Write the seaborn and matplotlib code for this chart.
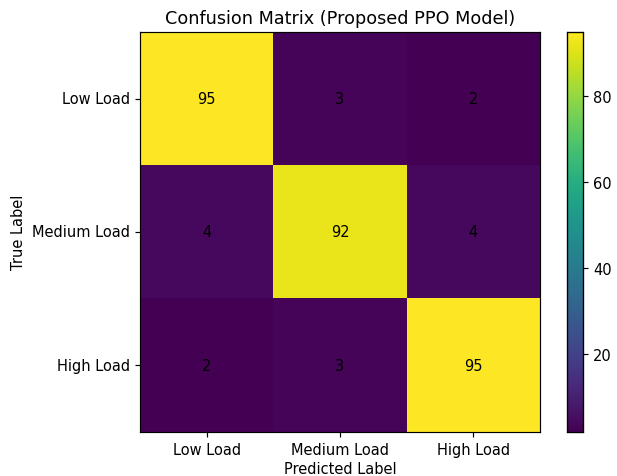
import numpy as np
import matplotlib
matplotlib.use("Agg")
import matplotlib.pyplot as plt
import seaborn as sns

classes = ["Low Load", "Medium Load", "High Load"]
low_row = [95, 3, 2]
medium_row = [4, 92, 4]
high_row = [2, 3, 95]

cm = np.array([low_row, medium_row, high_row])

sns.set_style("white")
plt.rcParams['font.family'] = ['DejaVu Sans']
plt.rcParams['text.color'] = 'black'
plt.rcParams['axes.labelcolor'] = 'black'
plt.rcParams['xtick.color'] = 'black'
plt.rcParams['ytick.color'] = 'black'

fs = 10.5

fig = plt.figure(figsize=(6.17, 4.77), dpi=100)
ax = fig.add_axes([0.227, 0.093, 0.648, 0.838])
cax = fig.add_axes([0.919, 0.093, 0.026, 0.838])

sns.heatmap(cm, annot=True, fmt="d", cmap="viridis", ax=ax, cbar_ax=cax,
            xticklabels=classes, yticklabels=classes,
            annot_kws={"color": "black", "fontsize": fs})

for s in ax.spines.values():
    s.set_visible(True)
    s.set_color("black")
    s.set_linewidth(0.85)
cax.set_frame_on(True)
for s in cax.spines.values():
    s.set_visible(True)
    s.set_color("black")
    s.set_linewidth(0.85)

cax.set_yticks([20, 40, 60, 80])
cax.tick_params(axis="y", length=3.75, width=0.85, labelsize=fs, right=True, pad=3.5,
                colors="black")

ax.tick_params(axis="both", length=3.75, width=0.85, labelsize=fs, bottom=True, left=True, pad=3.5,
               colors="black")
plt.setp(ax.get_yticklabels(), rotation=0)
plt.setp(ax.get_xticklabels(), rotation=0)

ax.set_title("Confusion Matrix (Proposed PPO Model)", fontsize=12.7, pad=6.5, color="black")
ax.set_xlabel("Predicted Label", fontsize=fs, labelpad=3, color="black")
ax.set_ylabel("True Label", fontsize=fs, labelpad=4, color="black")

fig.savefig("out.png", dpi=100)
